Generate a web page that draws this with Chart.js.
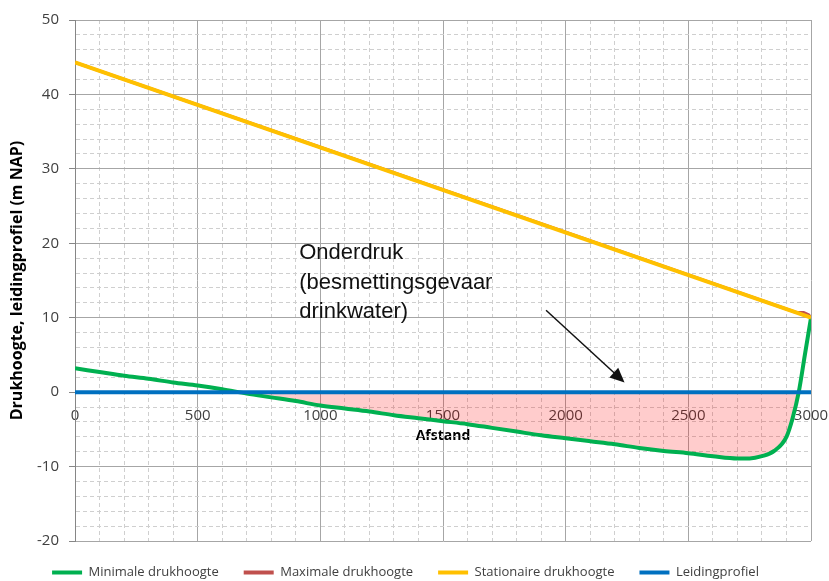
<!DOCTYPE html>
<html>
<head>
<meta charset="utf-8">
<script src="https://cdn.jsdelivr.net/npm/chart.js@4.4.0/dist/chart.umd.min.js"></script>
<style>
  body { margin: 0; background: #fff; }
  #wrap { width: 829px; height: 581px; }
</style>
</head>
<body>
<div id="wrap"><canvas id="chartDruk"></canvas></div>
<script>
// Minimale drukhoogte
const minAfstand = [0, 100, 200, 300, 400, 500, 600, 700, 800, 900, 1000, 1100, 1200, 1300, 1400, 1500,
  1600, 1700, 1800, 1900, 2000, 2100, 2200, 2300, 2400, 2500, 2600, 2700, 2750, 2800, 2850, 2900, 2925, 2950, 2975, 3000];
const minDruk = [3.2, 2.7, 2.2, 1.8, 1.3, 0.9, 0.4, -0.2, -0.7, -1.2, -1.8, -2.2, -2.6, -3.1, -3.5, -3.9,
  -4.3, -4.8, -5.3, -5.8, -6.2, -6.6, -7.0, -7.5, -7.9, -8.2, -8.6, -8.9, -8.9, -8.6, -7.9, -6.0, -3.5, 0, 5, 10];

// Maximale drukhoogte
const maxAfstand = [0, 1000, 2000, 2940, 2970, 2990, 3000];
const maxDruk = [44.3, 32.9, 21.5, 10.7, 10.7, 10.4, 10.0];

// Stationaire drukhoogte
const statAfstand = [0, 3000];
const statDruk = [44.3, 10.0];

// Leidingprofiel
const leidingAfstand = [0, 3000];
const leidingHoogte = [0, 0];

const xTickLabels = [0, 500, 1000, 1500, 2000, 2500, 3000];
const yTickLabels = [-20, -10, 0, 10, 20, 30, 40, 50];

// tekst + pijl (in data-coordinaten)
const notitieRegels = ['Onderdruk', '(besmettingsgevaar', 'drinkwater)'];
const notitiePos = { x: 914, y: 18.7 };
const pijlVan = { x: 1920, y: 11 };
const pijlNaar = { x: 2240, y: 1.3 };

const punten = (xs, ys) => xs.map((x, i) => ({ x: x, y: ys[i] }));

Chart.defaults.font.family = "'Open Sans', sans-serif";
Chart.defaults.color = '#404040';

const notitiePlugin = {
  id: 'notitie',
  beforeLayout(chart) {
    // legenda vaste hoogte, zodat het plotgebied tot onderaan doorloopt
    const lg = chart.legend;
    if (lg && !lg._vast) {
      const fit = lg.fit;
      lg.fit = function () { fit.call(this); this.height = 40; };
      lg._vast = true;
    }
  },
  afterDatasetsDraw(chart) {
    const { ctx, scales: { x, y } } = chart;
    ctx.save();
    ctx.fillStyle = '#111';
    ctx.font = "22px 'Liberation Sans', Arial, sans-serif";
    ctx.textBaseline = 'middle';
    const tx = x.getPixelForValue(notitiePos.x);
    const ty = y.getPixelForValue(notitiePos.y);
    notitieRegels.forEach((r, i) => ctx.fillText(r, tx, ty + i * 29.5));

    // pijl
    const x1 = x.getPixelForValue(pijlVan.x), y1 = y.getPixelForValue(pijlVan.y);
    const x2 = x.getPixelForValue(pijlNaar.x), y2 = y.getPixelForValue(pijlNaar.y);
    const hoek = Math.atan2(y2 - y1, x2 - x1);
    const kop = 16;
    ctx.strokeStyle = '#111';
    ctx.lineWidth = 1.5;
    ctx.beginPath();
    ctx.moveTo(x1, y1);
    ctx.lineTo(x2 - Math.cos(hoek) * kop * 0.8, y2 - Math.sin(hoek) * kop * 0.8);
    ctx.stroke();
    ctx.beginPath();
    ctx.moveTo(x2, y2);
    ctx.lineTo(x2 - kop * Math.cos(hoek - 0.42), y2 - kop * Math.sin(hoek - 0.42));
    ctx.lineTo(x2 - kop * Math.cos(hoek + 0.42), y2 - kop * Math.sin(hoek + 0.42));
    ctx.closePath();
    ctx.fill();
    ctx.restore();
  }
};

const isMajor = (ctx, stap) => !ctx.tick || ctx.tick.value % stap === 0;

new Chart(document.getElementById('chartDruk'), {
  type: 'line',
  data: {
    datasets: [
      {
        label: 'Minimale drukhoogte',
        data: punten(minAfstand, minDruk),
        borderColor: '#00B050',
        backgroundColor: '#00B050',
        borderWidth: 4,
        pointRadius: 0,
        tension: 0.4,
        cubicInterpolationMode: 'monotone',
        fill: { target: { value: 0 }, above: 'rgba(0,0,0,0)', below: 'rgba(255,0,0,0.2)' },
        order: 4
      },
      {
        label: 'Maximale drukhoogte',
        data: punten(maxAfstand, maxDruk),
        borderColor: '#C0504D',
        backgroundColor: '#C0504D',
        borderWidth: 3,
        pointRadius: 0,
        fill: false,
        order: 3
      },
      {
        label: 'Stationaire drukhoogte',
        data: punten(statAfstand, statDruk),
        borderColor: '#FFC000',
        backgroundColor: '#FFC000',
        borderWidth: 4,
        pointRadius: 0,
        fill: false,
        order: 2
      },
      {
        label: 'Leidingprofiel',
        data: punten(leidingAfstand, leidingHoogte),
        borderColor: '#0070C0',
        backgroundColor: '#0070C0',
        borderWidth: 4,
        pointRadius: 0,
        fill: false,
        order: 1
      }
    ]
  },
  options: {
    responsive: true,
    maintainAspectRatio: false,
    animation: false,
    layout: { padding: { top: 20, right: 18, left: 0, bottom: 0 } },
    plugins: {
      tooltip: { enabled: false },
      legend: {
        position: 'bottom',
        labels: {
          boxWidth: 30,
          boxHeight: 4,
          padding: 25,
          color: '#404040',
          font: { size: 13 },
          sort: (a, b) => a.datasetIndex - b.datasetIndex,
          generateLabels: (chart) => Chart.defaults.plugins.legend.labels.generateLabels(chart)
            .map(l => ({ ...l, fillStyle: l.strokeStyle, lineWidth: 0 }))
        }
      }
    },
    scales: {
      x: {
        type: 'linear',
        min: 0,
        max: 3000,
        position: { y: 0 },
        afterFit: (scale) => { scale.paddingLeft = 0; scale.paddingRight = 0; },
        border: {
          display: false,
          dash: (ctx) => isMajor(ctx, 500) ? [] : [4, 3]
        },
        grid: {
          drawTicks: false,
          color: (ctx) => isMajor(ctx, 500) ? '#a6a6a6' : '#cfcfcf'
        },
        ticks: {
          stepSize: 100,
          autoSkip: false,
          maxRotation: 0,
          padding: 15,
          font: { size: 15 },
          callback: (v) => xTickLabels.includes(v) ? v : ''
        },
        title: {
          display: true,
          text: 'Afstand',
          color: '#000',
          font: { size: 14, weight: 'bold' },
          padding: { top: -13 }
        }
      },
      y: {
        min: -20,
        max: 50,
        afterFit: (scale) => { scale.width = 75; scale.paddingTop = 0; scale.paddingBottom = 0; },
        border: {
          color: '#868686',
          dash: (ctx) => isMajor(ctx, 10) ? [] : [4, 3]
        },
        grid: {
          tickLength: 6,
          color: (ctx) => isMajor(ctx, 10) ? '#a6a6a6' : '#cfcfcf',
          tickColor: (ctx) => isMajor(ctx, 10) ? '#868686' : 'rgba(0,0,0,0)'
        },
        ticks: {
          stepSize: 2,
          autoSkip: false,
          padding: 10,
          font: { size: 15 },
          callback: (v) => yTickLabels.includes(v) ? v : ''
        },
        title: {
          display: true,
          text: 'Drukhoogte, leidingprofiel (m NAP)',
          color: '#000',
          font: { size: 16, weight: 'bold' },
          padding: { top: 8, bottom: 0 }
        }
      }
    }
  },
  plugins: [notitiePlugin]
});
</script>
</body>
</html>
